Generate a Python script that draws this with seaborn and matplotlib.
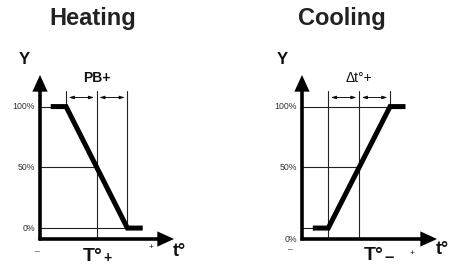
import matplotlib
matplotlib.use("Agg")
import matplotlib.pyplot as plt
import seaborn as sns
import pandas as pd

# ---- data ----
t_points = [-1.5, -1.0, 1.0, 1.5]
heating_y = [100, 100, 0, 0]
cooling_y = [0, 0, 100, 100]
tick_values = [100, 50, 0]
tick_labels = ["100%", "50%", "0%"]
titles = ["Heating", "Cooling"]
band_labels = ["PB+", "\u0394t\u00b0+"]
setpoint_subs = ["+", "\u2013"]

sns.set_theme(style="white")
plt.rcParams['font.family'] = ['Liberation Sans', 'DejaVu Sans']

W, H = 449, 265
fig = plt.figure(figsize=(W / 100, H / 100), dpi=100)

XMIN, XMAX = -1.85, 2.52
YMIN, YMAX = -9, 126
INK = "#111111"
THIN = "#222222"

def px_axes(left, right, top, bottom):
    return fig.add_axes([left / W, 1 - bottom / H, (right - left) / W, (bottom - top) / H])

def ftext(x, y, s, **kw):
    fig.text(x / W, 1 - y / H, s, **kw)

panels = [
    dict(ax=px_axes(40, 174, 75, 239), y=heating_y, zero_label_y=0,
         vlines=[(-1, 100), (0, YMIN), (1, 0)],
         hlines=[(100, -1.5), (50, 0), (0, 1)]),
    dict(ax=px_axes(302, 437, 75, 239), y=cooling_y, zero_label_y=YMIN,
         vlines=[(-1, YMIN), (0, YMIN), (1, 100)],
         hlines=[(0, -1.5), (50, 0), (100, 1)]),
]

top_v = 112.5
for i, p in enumerate(panels):
    ax = p["ax"]
    # thin guide lines
    for x, y0 in p["vlines"]:
        ax.plot([x, x], [y0, top_v], color=THIN, lw=0.8, clip_on=False)
    for y, x1 in p["hlines"]:
        ax.plot([XMIN, x1], [y, y], color=THIN, lw=0.8, clip_on=False)
    # band arrows
    for a, b in [(-1, 0), (0, 1)]:
        ax.annotate("", xy=(b - 0.08, 107.5), xytext=(a + 0.08, 107.5),
                    arrowprops=dict(arrowstyle="<|-|>,head_length=0.5,head_width=0.15",
                                    lw=0.7, color=INK, mutation_scale=6,
                                    shrinkA=0, shrinkB=0))
    # axes arrows
    ax.annotate("", xy=(XMAX, YMIN), xytext=(XMIN - 0.05, YMIN),
                arrowprops=dict(facecolor="black", edgecolor="none", width=2.6,
                                headwidth=11, headlength=12, shrink=0))
    ax.annotate("", xy=(XMIN, YMAX), xytext=(XMIN, YMIN - 1.2),
                arrowprops=dict(facecolor="black", edgecolor="none", width=2.6,
                                headwidth=11, headlength=12, shrink=0))
    # characteristic curve
    df = pd.DataFrame({"t": t_points, "Y": p["y"]})
    sns.lineplot(data=df, x="t", y="Y", ax=ax, color="black", lw=3.6,
                 sort=False, solid_capstyle="butt", solid_joinstyle="miter", clip_on=False)
    ax.set_xlim(XMIN, XMAX)
    ax.set_ylim(YMIN, YMAX)
    ax.axis("off")
    # tick labels
    for v, lab in zip(tick_values, tick_labels):
        yy = p["zero_label_y"] if v == 0 else v
        ax.text(XMIN - 0.17, yy, lab, ha="right", va="center", fontsize=6.3, color="#333333")
    ax.text(0, 118, band_labels[i], ha="center", va="bottom", fontsize=10,
            fontweight="bold" if i == 0 else "normal", color=INK)

# titles and labels (figure pixel positions)
ftext(93, 19, titles[0], ha="center", va="center", fontsize=17, fontweight="bold", color="#222222")
ftext(342, 19, titles[1], ha="center", va="center", fontsize=17, fontweight="bold", color="#222222")
for x in (24, 282):
    ftext(x, 60, "Y", ha="center", va="center", fontsize=12, fontweight="bold", color=INK)

# heating bottom labels
ftext(37, 252, "\u2013", ha="center", va="center", fontsize=6, color=INK)
ftext(151, 248, "+", ha="center", va="center", fontsize=6, color=INK)
ftext(179, 252, "t\u00b0", ha="center", va="center", fontsize=13, fontweight="bold", color=INK)
ftext(93, 248, "T\u00b0", ha="center", va="top", fontsize=14, fontweight="bold", color=INK)
ftext(108, 258, setpoint_subs[0], ha="center", va="center", fontsize=10, fontweight="bold", color=INK)

# cooling bottom labels
ftext(290, 250, "\u2013", ha="center", va="center", fontsize=6, color=INK)
ftext(412, 254, "+", ha="center", va="center", fontsize=6, color=INK)
ftext(442, 250, "t\u00b0", ha="center", va="center", fontsize=13, fontweight="bold", color=INK)
ftext(374, 247, "T\u00b0", ha="center", va="top", fontsize=14, fontweight="bold", color=INK)
ftext(389, 257, setpoint_subs[1], ha="center", va="center", fontsize=12, fontweight="bold", color=INK)

fig.savefig("out.png", dpi=100)
